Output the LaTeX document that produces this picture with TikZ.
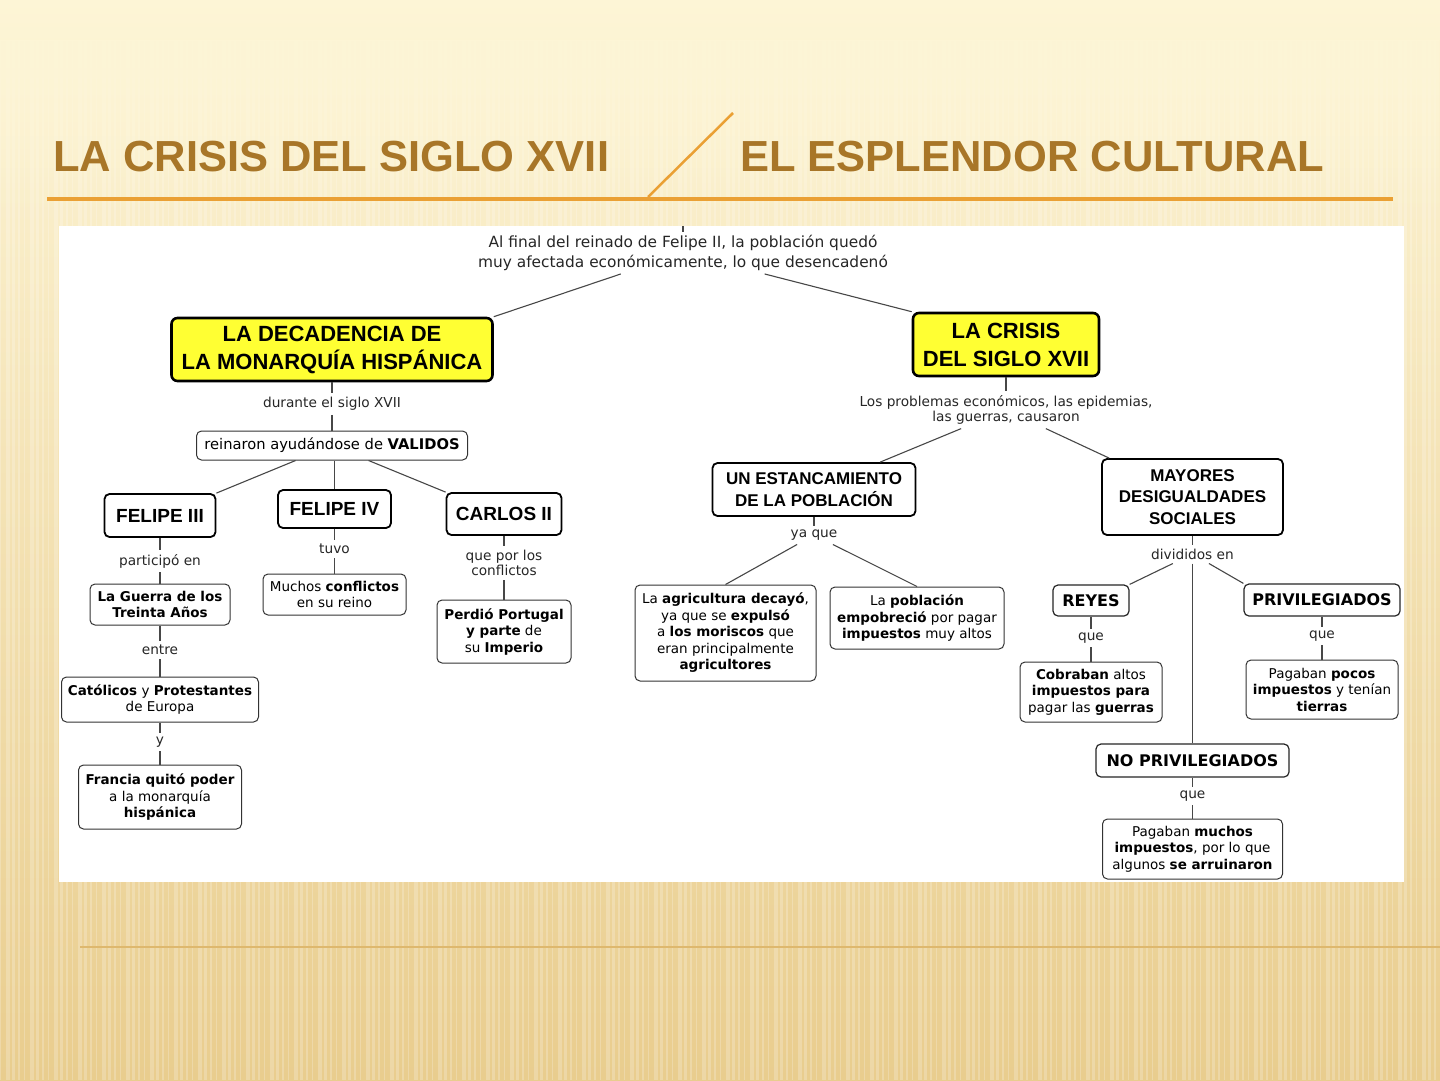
\documentclass[tikz,border=0pt]{standalone}
\usepackage{fontspec}
\setmainfont{DejaVu Sans}
\newfontfamily\headfont{Liberation Sans}
\usetikzlibrary{fadings}

\definecolor{titlebrown}{RGB}{168,118,40}
\definecolor{lineorange}{RGB}{234,160,52}
\definecolor{bgtop}{RGB}{253,245,214}
\definecolor{bgmid}{RGB}{244,226,172}
\definecolor{bgbot}{RGB}{233,205,142}
\definecolor{bgline}{RGB}{222,184,110}
\definecolor{mapyellow}{RGB}{255,255,51}

\tikzset{
  concept/.style={draw=black, line width=1.8pt, rounded corners=5pt, fill=white, align=center, inner sep=2pt,
    font=\headfont\bfseries\fontsize{19}{22}\selectfont},
  mainbox/.style={concept, fill=mapyellow, line width=2.6pt, rounded corners=6pt,
    font=\headfont\bfseries\fontsize{22}{28}\selectfont},
  midbox/.style={concept, font=\headfont\bfseries\fontsize{17}{21.5}\selectfont},
  groupbox/.style={draw=black!85, line width=1.2pt, rounded corners=5pt, fill=white, align=center, inner sep=2pt,
    font=\bfseries\fontsize{16}{18}\selectfont},
  infobox/.style={draw=black!80, line width=1pt, rounded corners=5pt, fill=white, align=center, inner sep=2pt,
    font=\fontsize{13.5}{16.5}\selectfont},
  linklabel/.style={align=center, inner sep=4pt, text=black!85, font=\fontsize{13.7}{15}\selectfont},
  link/.style={draw=black!72, line width=1.1pt},
}

\begin{document}
\begin{tikzpicture}[x=1pt,y=-1pt]
\useasboundingbox (0,0) rectangle (1440,1080);

% slide background
\shade[top color=bgtop, middle color=bgmid, bottom color=bgbot] (0,0) rectangle (1440,1080);
\foreach \i in {0,...,239}{
  \pgfmathsetmacro\w{1+mod(\i*7,4)}
  \fill[white, opacity=0.22] (\i*6,40) rectangle ++(\w,1040);
}
\fill[bgtop, path fading=south] (0,40) rectangle (1440,230);

% title bar
\node[anchor=base west, inner sep=0, text=titlebrown, font=\headfont\bfseries\fontsize{43.5}{44}\selectfont] (ttlleft) at (53,171) {LA CRISIS DEL SIGLO XVII};
\node[anchor=base west, inner sep=0, text=titlebrown, font=\headfont\bfseries\fontsize{43.5}{44}\selectfont] (ttlright) at (740,171) {EL ESPLENDOR CULTURAL};
\draw[lineorange, line width=4pt] (47,199) -- (1393,199);
\draw[lineorange, line width=2.5pt] (733,113) -- (648,197);
\draw[bgline, line width=1.2pt] (80,947) -- (1440,947);

% map panel
\fill[white] (59,226) rectangle (1404,882);

% top
\coordinate (top) at (683,226);
\node[linklabel, inner sep=3pt, font=\fontsize{15.4}{20}\selectfont] (intro) at (683,253)
  {Al final del reinado de Felipe II, la población quedó\\muy afectada económicamente, lo que desencadenó};
\node[mainbox, minimum width=321, minimum height=63] (decad) at (332,349.5) {LA DECADENCIA DE\\LA MONARQUÍA HISPÁNICA};
\node[mainbox, minimum width=186, minimum height=63] (crisis) at (1006,344.5) {LA CRISIS\\DEL SIGLO XVII};

% left branch
\node[linklabel] (durante) at (332,404) {durante el siglo XVII};
\node[infobox, minimum width=271, minimum height=29, font=\fontsize{14.7}{17}\selectfont] (validos) at (332,445.5) {reinaron ayudándose de \textbf{VALIDOS}};
\node[concept, minimum width=111, minimum height=43] (f3) at (160,515.5) {FELIPE III};
\node[concept, minimum width=113, minimum height=38] (f4) at (334.5,509) {FELIPE IV};
\node[concept, minimum width=115, minimum height=42] (carlos) at (504,514) {CARLOS II};

\node[linklabel] (participo) at (160,561) {participó en};
\node[infobox, minimum width=140, minimum height=41] (guerra) at (160,604.5) {\textbf{La Guerra de los}\\\textbf{Treinta Años}};
\node[linklabel] (entre) at (160,650) {entre};
\node[infobox, minimum width=197, minimum height=45] (catol) at (160,699.5) {\textbf{Católicos} y \textbf{Protestantes}\\de Europa};
\node[linklabel] (ylab) at (160,742) {y};
\node[infobox, minimum width=163, minimum height=64] (francia) at (160,797) {\textbf{Francia quitó poder}\\a la monarquía\\\textbf{hispánica}};

\node[linklabel] (tuvo) at (334.5,549) {tuvo};
\node[infobox, minimum width=143, minimum height=41] (muchos) at (334.5,594.5) {Muchos \textbf{conflictos}\\en su reino};

\node[linklabel] (quepor) at (504,563) {que por los\\conflictos};
\node[infobox, minimum width=134, minimum height=63] (perdio) at (504,631.5) {\textbf{Perdió Portugal}\\\textbf{y parte} de\\su \textbf{Imperio}};

% right branch
\node[linklabel] (problemas) at (1006,410) {Los problemas económicos, las epidemias,\\las guerras, causaron};
\node[midbox, minimum width=203, minimum height=53] (estanc) at (814,489.5) {UN ESTANCAMIENTO\\DE LA POBLACIÓN};
\node[midbox, minimum width=181, minimum height=76] (mayores) at (1192.5,497) {MAYORES\\DESIGUALDADES\\SOCIALES};

\node[linklabel] (yaque) at (814,535) {ya que};
\node[infobox, minimum width=181, minimum height=96] (agric) at (725.5,633) {La \textbf{agricultura decayó},\\ya que se \textbf{expulsó}\\a \textbf{los moriscos} que\\eran principalmente\\\textbf{agricultores}};
\node[infobox, minimum width=174, minimum height=62] (pobl) at (917,618) {La \textbf{población}\\\textbf{empobreció} por pagar\\\textbf{impuestos} muy altos};

\node[linklabel] (divid) at (1192.5,554) {divididos en};
\node[groupbox, minimum width=76, minimum height=31] (reyes) at (1091,600.5) {REYES};
\node[groupbox, minimum width=156, minimum height=32] (privil) at (1322,600) {PRIVILEGIADOS};
\node[groupbox, minimum width=193, minimum height=33] (nopriv) at (1192.5,760.5) {NO PRIVILEGIADOS};

\node[linklabel] (que1) at (1091,638) {que};
\node[infobox, minimum width=142, minimum height=60] (cobr) at (1091,692) {\textbf{Cobraban} altos\\\textbf{impuestos para}\\pagar las \textbf{guerras}};
\node[linklabel] (que2) at (1322,636) {que};
\node[infobox, minimum width=152, minimum height=59] (pocos) at (1322,689.5) {Pagaban \textbf{pocos}\\\textbf{impuestos} y tenían\\\textbf{tierras}};
\node[linklabel] (que3) at (1192.5,796) {que};
\node[infobox, minimum width=180, minimum height=60] (muchosimp) at (1192.5,849) {Pagaban \textbf{muchos}\\\textbf{impuestos}, por lo que\\algunos \textbf{se arruinaron}};

% connectors
\draw[link] (top) -- (intro);
\draw[link] (intro) -- (decad.north east);
\draw[link] (intro) -- (crisis.north west);
\draw[link] (decad) -- (durante);
\draw[link] (durante) -- (validos);
\draw[link] (validos) -- (f3.north east);
\draw[link] (f4.north |- validos.south) -- (f4);
\draw[link] (validos) -- (carlos.north west);
\draw[link] (f3) -- (participo);
\draw[link] (participo) -- (guerra);
\draw[link] (guerra) -- (entre);
\draw[link] (entre) -- (catol);
\draw[link] (catol) -- (ylab);
\draw[link] (ylab) -- (francia);
\draw[link] (f4) -- (tuvo);
\draw[link] (tuvo) -- (muchos);
\draw[link] (carlos) -- (quepor);
\draw[link] (quepor) -- (perdio);

\draw[link] (crisis) -- (problemas);
\draw[link] (problemas) -- (estanc);
\draw[link] (problemas) -- (mayores);
\draw[link] (estanc) -- (yaque);
\draw[link] (yaque) -- (agric.north);
\draw[link] (yaque) -- (pobl.north);
\draw[link] (mayores) -- (divid);
\draw[link] (divid) -- (reyes.north east);
\draw[link] (divid) -- (privil.north west);
\draw[link] (divid) -- (nopriv);
\draw[link] (reyes) -- (que1);
\draw[link] (que1) -- (cobr);
\draw[link] (privil) -- (que2);
\draw[link] (que2) -- (pocos);
\draw[link] (nopriv) -- (que3);
\draw[link] (que3) -- (muchosimp);
\end{tikzpicture}
\end{document}
